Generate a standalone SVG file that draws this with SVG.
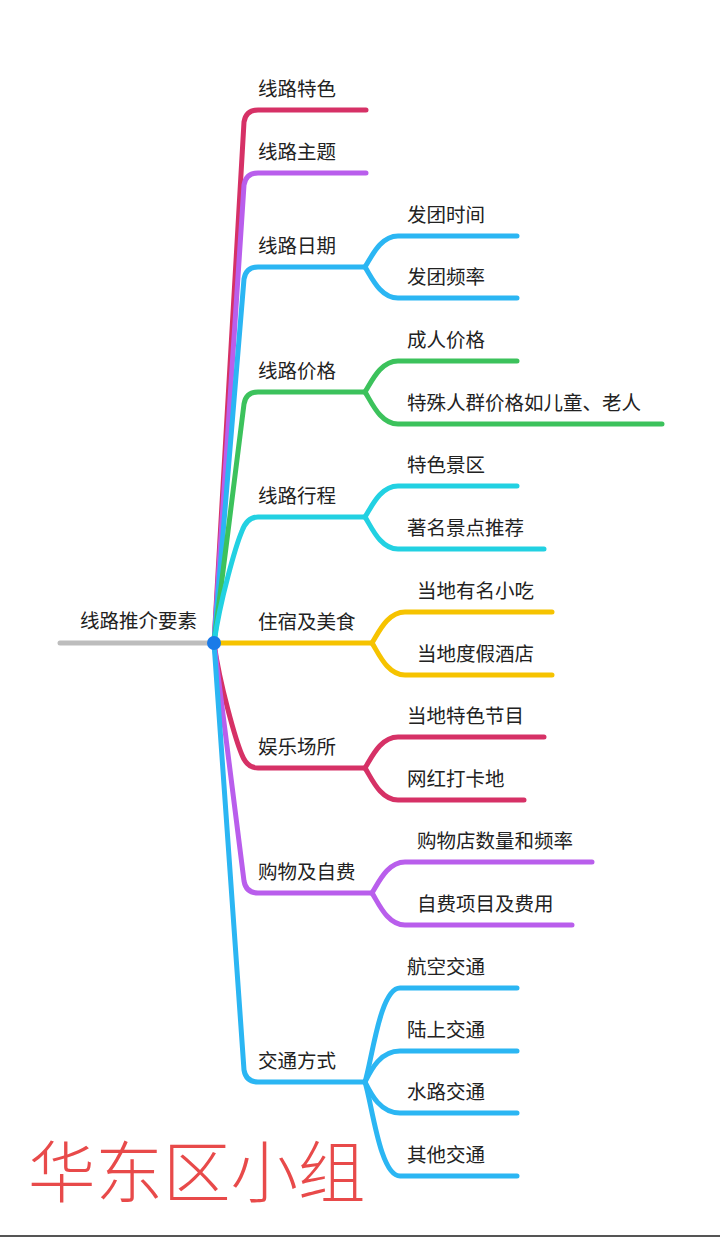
<svg xmlns="http://www.w3.org/2000/svg" width="720" height="1237" viewBox="0 0 720 1237">
<style>
.l{fill:none;stroke-width:5;stroke-linecap:round;stroke-linejoin:round}
.cr{stroke:#d63166}.pu{stroke:#b95eec}.bl{stroke:#2bb6f3}.gr{stroke:#3cc25c}.cy{stroke:#22d1e2}.ye{stroke:#f6c300}.gy{stroke:#bdbdbd}
text{font-family:"Noto Sans CJK SC","Noto Sans",sans-serif;font-size:19.5px;fill:#222}
</style>
<rect width="720" height="1237" fill="#fff"/>
<g id="connectors">
<path class="l gy" d="M60 643 L214 643"/>
<path class="l cr" d="M214 643 L244 122 Q246 110 258 110 L366 110"/>
<path class="l pu" d="M214 643 L244 185 Q246 173 258 173 L366 173"/>
<path class="l bl" d="M214 643 L244 279 Q246 267 258 267 L365 267"/>
<path class="l bl" d="M365 267 C371 258 380 236 398 236 L517 236"/>
<path class="l bl" d="M365 267 C371 276 380 298 398 298 L517 298"/>
<path class="l gr" d="M214 643 L244 404 Q246 392 258 392 L365 392"/>
<path class="l gr" d="M365 392 C371 383 380 361 398 361 L517 361"/>
<path class="l gr" d="M365 392 C371 401 380 424 398 424 L662 424"/>
<path class="l cy" d="M214 643 C220 600 236 545 242 531 Q247 517 258 517 L365 517"/>
<path class="l cy" d="M365 517 C371 508 380 486 398 486 L517 486"/>
<path class="l cy" d="M365 517 C371 526 380 549 398 549 L544 549"/>
<path class="l ye" d="M214 643 L372 643"/>
<path class="l ye" d="M372 643 C378 634 387 612 405 612 L552 612"/>
<path class="l ye" d="M372 643 C378 652 387 675 405 675 L552 675"/>
<path class="l cr" d="M214 643 C220 686 236 741 242 755 Q247 768 258 768 L365 768"/>
<path class="l cr" d="M365 768 C371 759 380 737 398 737 L544 737"/>
<path class="l cr" d="M365 768 C371 777 380 800 398 800 L524 800"/>
<path class="l pu" d="M214 643 L244 881 Q246 893 258 893 L372 893"/>
<path class="l pu" d="M372 893 C378 884 387 862 405 862 L592 862"/>
<path class="l pu" d="M372 893 C378 902 387 925 405 925 L572 925"/>
<path class="l bl" d="M214 643 L244 1070 Q246 1082 258 1082 L365 1082"/>
<path class="l bl" d="M365 1082 C372 1060 380 988 400 988 L517 988"/>
<path class="l bl" d="M365 1082 C371 1070 380 1051 400 1051 L517 1051"/>
<path class="l bl" d="M365 1082 C371 1094 380 1113 400 1113 L517 1113"/>
<path class="l bl" d="M365 1082 C372 1104 380 1176 400 1176 L517 1176"/>
</g>
<g id="root"><text x="80" y="628">线路推介要素</text><circle cx="214" cy="643" r="7" fill="#1a7be8"/></g>
<g id="n1"><text x="258" y="96">线路特色</text></g>
<g id="n2"><text x="258" y="159">线路主题</text></g>
<g id="n3"><text x="258" y="253">线路日期</text></g>
<g id="n3a"><text x="407" y="222">发团时间</text></g>
<g id="n3b"><text x="407" y="284">发团频率</text></g>
<g id="n4"><text x="258" y="378">线路价格</text></g>
<g id="n4a"><text x="407" y="347">成人价格</text></g>
<g id="n4b"><text x="407" y="410">特殊人群价格如儿童、老人</text></g>
<g id="n5"><text x="258" y="503">线路行程</text></g>
<g id="n5a"><text x="407" y="472">特色景区</text></g>
<g id="n5b"><text x="407" y="535">著名景点推荐</text></g>
<g id="n6"><text x="258" y="629">住宿及美食</text></g>
<g id="n6a"><text x="417" y="598">当地有名小吃</text></g>
<g id="n6b"><text x="417" y="661">当地度假酒店</text></g>
<g id="n7"><text x="258" y="754">娱乐场所</text></g>
<g id="n7a"><text x="407" y="723">当地特色节目</text></g>
<g id="n7b"><text x="407" y="786">网红打卡地</text></g>
<g id="n8"><text x="258" y="879">购物及自费</text></g>
<g id="n8a"><text x="417" y="848">购物店数量和频率</text></g>
<g id="n8b"><text x="417" y="911">自费项目及费用</text></g>
<g id="n9"><text x="258" y="1068">交通方式</text></g>
<g id="n9a"><text x="407" y="974">航空交通</text></g>
<g id="n9b"><text x="407" y="1037">陆上交通</text></g>
<g id="n9c"><text x="407" y="1099">水路交通</text></g>
<g id="n9d"><text x="407" y="1162">其他交通</text></g>
<g id="title"><text x="28" y="1197" style="font-size:67.5px;fill:#e84a4a;font-weight:300">华东区小组</text></g>
<line x1="0" y1="1236" x2="720" y2="1236" stroke="#555" stroke-width="2"/>
</svg>
